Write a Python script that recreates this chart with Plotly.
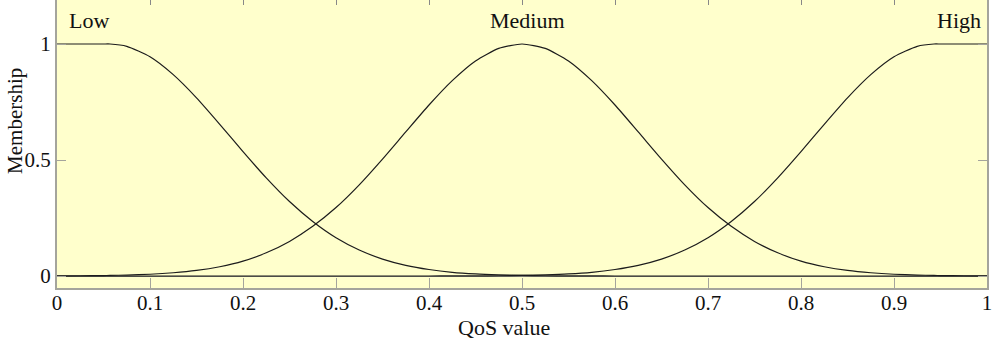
import plotly.graph_objects as go

# Data
x_vals = [0.0, 0.025, 0.05, 0.057, 0.075, 0.1, 0.125, 0.15, 0.175, 0.2, 0.225, 0.25, 0.275,
          0.3, 0.325, 0.35, 0.375, 0.4, 0.425, 0.45, 0.475, 0.5, 0.525, 0.55, 0.575,
          0.6, 0.625, 0.65, 0.675, 0.7, 0.725, 0.75, 0.775, 0.8, 0.825, 0.85, 0.875,
          0.9, 0.925, 0.943, 0.95, 0.975, 1.0]
low = [1.0, 1.0, 1.0, 1.0, 0.99, 0.945, 0.868, 0.768, 0.654, 0.536, 0.423, 0.321, 0.235,
       0.165, 0.112, 0.073, 0.046, 0.028, 0.016, 0.009, 0.005, 0.0025, 0.0012, 0.0005, 0.0002,
       0.0001, 0.0, 0.0, 0.0, 0.0, 0.0, 0.0, 0.0, 0.0, 0.0, 0.0, 0.0,
       0.0, 0.0, 0.0, 0.0, 0.0, 0.0]
medium = [0.0005, 0.001, 0.002, 0.0025, 0.004, 0.0076, 0.014, 0.024, 0.040, 0.064, 0.100, 0.149, 0.214,
          0.295, 0.393, 0.504, 0.621, 0.737, 0.842, 0.927, 0.981, 1.0, 0.981, 0.927, 0.842,
          0.737, 0.621, 0.504, 0.393, 0.295, 0.214, 0.149, 0.100, 0.064, 0.040, 0.024, 0.014,
          0.0076, 0.004, 0.0025, 0.002, 0.001, 0.0005]
high = list(reversed(low))

x_ticks = [0, 0.1, 0.2, 0.3, 0.4, 0.5, 0.6, 0.7, 0.8, 0.9, 1]
x_tick_text = ["0", "0.1", "0.2", "0.3", "0.4", "0.5", "0.6", "0.7", "0.8", "0.9", "1"]
y_ticks = [0, 0.5, 1]
y_tick_text = ["0", "0.5", "1"]
set_names = ["Low", "Medium", "High"]
set_label_x = [0.034, 0.506, 0.970]

FONT = "Liberation Serif, Times New Roman, serif"
AX = "#a4a49c"
LINE = "#1c1c1c"

fig = go.Figure()
for name, ys in zip(set_names, [low, medium, high]):
    fig.add_trace(go.Scatter(x=x_vals, y=ys, mode="lines", name=name,
                             line=dict(color=LINE, width=1.2, shape="spline", smoothing=0.6),
                             showlegend=False, hoverinfo="skip"))
# invisible trace to anchor the top tick axis
fig.add_trace(go.Scatter(x=[0, 1], y=[0, 0], xaxis="x2", mode="lines",
                         line=dict(width=0), opacity=0, showlegend=False, hoverinfo="skip"))

for name, lx in zip(set_names, set_label_x):
    fig.add_annotation(x=lx, y=1.10, text=name, showarrow=False, xref="x", yref="y",
                       font=dict(family=FONT, size=22, color="#111111"),
                       xanchor="center", yanchor="middle")

fig.add_annotation(x=0.4806, y=-0.137, xref="paper", yref="paper", text="QoS value",
                   showarrow=False, font=dict(family=FONT, size=22, color="#111111"),
                   xanchor="center", yanchor="middle")
fig.add_annotation(x=-0.0452, y=0.58, xref="paper", yref="paper", text="Membership",
                   showarrow=False, textangle=-90, font=dict(family=FONT, size=21, color="#111111"),
                   xanchor="center", yanchor="middle")

fig.update_layout(
    width=1001, height=344,
    margin=dict(l=57, r=14, t=0, b=56),
    paper_bgcolor="white",
    plot_bgcolor="#ffffcc",
    font=dict(family=FONT, size=21, color="#111111"),
    xaxis=dict(range=[0, 1], tickvals=x_ticks, ticktext=x_tick_text,
               ticks="inside", ticklen=10, tickcolor=AX, tickwidth=1,
               tickfont=dict(family=FONT, size=21, color="#111111"),
               ticklabelstandoff=-5,
               showline=True, linecolor=AX, linewidth=2, mirror=False,
               showgrid=False, zeroline=False, fixedrange=True),
    xaxis2=dict(range=[0, 1], overlaying="x", side="top", tickvals=x_ticks,
                ticks="inside", ticklen=5, tickcolor="#888888", showticklabels=False,
                showline=False, showgrid=False, zeroline=False),
    yaxis=dict(range=[-0.0517, 1.1897], tickvals=y_ticks, ticktext=y_tick_text,
               ticks="inside", ticklen=9, tickcolor=AX, tickwidth=1,
               tickfont=dict(family=FONT, size=21, color="#111111"),
               showline=True, linecolor=AX, linewidth=2, mirror="ticks",
               showgrid=False, zeroline=True, zerolinecolor="#7a7a74", zerolinewidth=1,
               fixedrange=True),
)

fig.write_html("out.html", config={"displayModeBar": False},
               post_script="document.body.style.margin='0';document.body.style.padding='0';")
